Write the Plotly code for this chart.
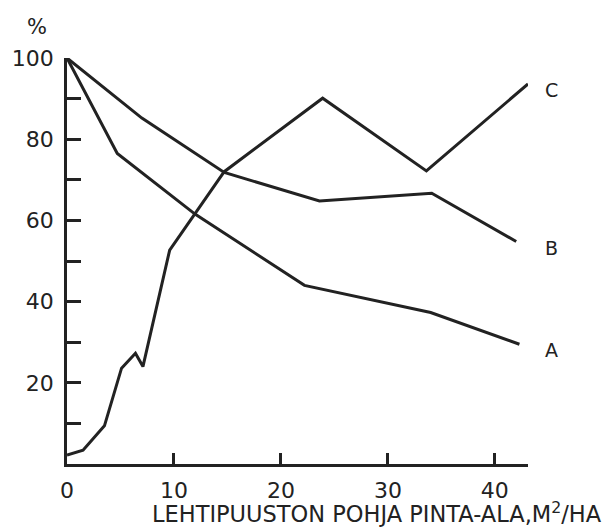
import plotly.graph_objects as go

# Data
a_x = [0, 4.7, 12.0, 22.2, 34.0, 42.3]
a_y = [100, 76.5, 61.5, 44.0, 37.3, 29.5]
b_x = [0, 7.0, 14.7, 23.6, 34.1, 42.0]
b_y = [100, 85.2, 71.8, 64.8, 66.7, 54.8]
c_x = [0, 1.5, 3.5, 5.1, 6.4, 7.1, 9.6, 14.7, 23.9, 33.6, 43.1]
c_y = [2.2, 3.4, 9.4, 23.6, 27.3, 24.0, 52.7, 72.0, 90.1, 72.2, 93.6]

series_names = ["A", "B", "C"]
x_ticks = [0, 10, 20, 30, 40]
y_ticks = [10, 20, 30, 40, 50, 60, 70, 80, 90, 100]
y_ticktext = ["", "20", "", "40", "", "60", "", "80", "", "100"]

ink = "#222222"
font_family = "DejaVu Sans"

x_min, x_max = 0, 43.1
y_min, y_max = 0, 100

fig = go.Figure()
for name, xs, ys in zip(series_names, [a_x, b_x, c_x], [a_y, b_y, c_y]):
    fig.add_trace(go.Scatter(x=xs, y=ys, mode="lines", name=name,
                             line=dict(color=ink, width=3), cliponaxis=False,
                             showlegend=False))
    px = (45.3 - x_min) / (x_max - x_min)
    py = (ys[-1] - 1.5 - y_min) / (y_max - y_min)
    fig.add_annotation(x=px, y=py, xref="paper", yref="paper", text=name,
                       showarrow=False, xanchor="center", yanchor="middle",
                       font=dict(family=font_family, size=19, color=ink))

fig.add_annotation(x=-0.065, y=1.076, xref="paper", yref="paper", text="%",
                   showarrow=False, xanchor="center", yanchor="middle",
                   font=dict(family=font_family, size=21, color=ink))
fig.add_annotation(x=1.165, y=-0.12, xref="paper", yref="paper", xanchor="right",
                   yanchor="middle", text="LEHTIPUUSTON POHJA PINTA-ALA,M<sup>2</sup>/HA",
                   showarrow=False, font=dict(family=font_family, size=22.5, color=ink))

fig.update_layout(
    width=611, height=530,
    margin=dict(l=58, r=83, t=58, b=66),
    paper_bgcolor="white", plot_bgcolor="white",
    font=dict(family=font_family, color=ink),
    xaxis=dict(range=[x_min, x_max], showgrid=False, zeroline=False, showline=True,
               linecolor=ink, linewidth=2.5, ticks="inside", ticklen=11,
               tickwidth=2.5, tickcolor=ink, tickvals=x_ticks,
               ticktext=[str(v) for v in x_ticks],
               tickfont=dict(family=font_family, size=22, color=ink),
               ticklabelstandoff=5),
    yaxis=dict(range=[y_min, y_max], showgrid=False, zeroline=False, showline=True,
               linecolor=ink, linewidth=2.5, ticks="inside", ticklen=14,
               tickwidth=2.5, tickcolor=ink, tickvals=y_ticks, ticktext=y_ticktext,
               tickfont=dict(family=font_family, size=22, color=ink),
               ticklabelstandoff=6),
)

fig.write_html("out.html")
